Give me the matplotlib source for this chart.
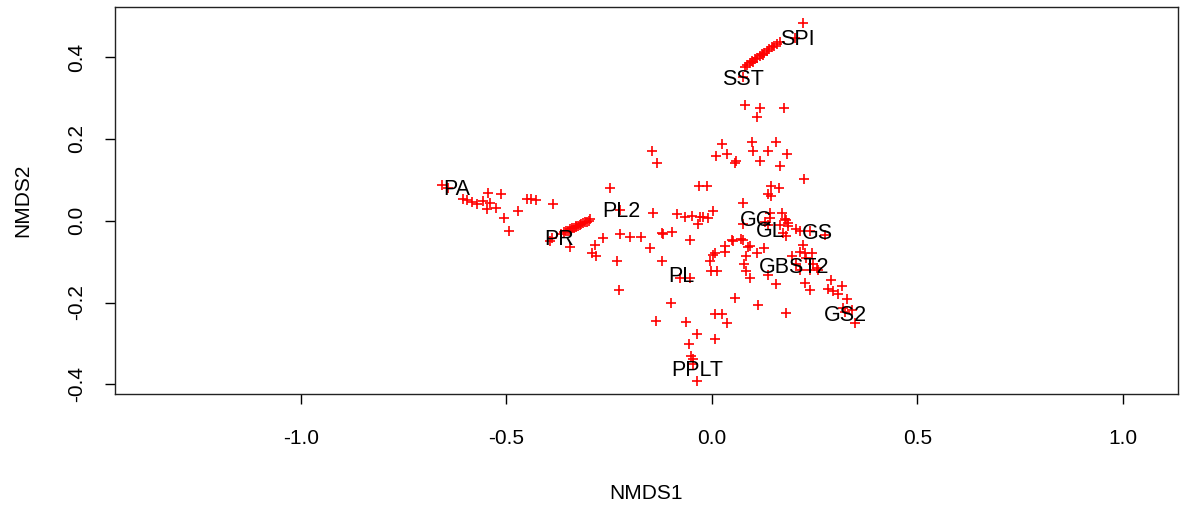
import matplotlib.pyplot as plt

plt.rcParams["font.family"] = ["Liberation Sans", "DejaVu Sans"]

# NMDS site scores (axis 1, axis 2)
nmds1 = [
    # PA / left arm
    -0.658, -0.642, -0.606, -0.596, -0.584, -0.572, -0.557, -0.545, -0.540, -0.547,
    -0.526, -0.513, -0.506, -0.494, -0.472, -0.451, -0.440, -0.428, -0.387,
    # PR cluster
    -0.390, -0.345, -0.394, -0.368, -0.360, -0.355, -0.350, -0.345, -0.340, -0.336,
    -0.331, -0.327, -0.322, -0.318, -0.313, -0.309, -0.304, -0.300, -0.296, -0.345, -0.330,
    # centre-left
    -0.248, -0.224, -0.264, -0.285, -0.293, -0.281, -0.224, -0.200, -0.173, -0.232,
    -0.226, -0.146, -0.134, -0.143, -0.151, -0.122, -0.118, -0.096, -0.122, -0.136,
    -0.100, -0.086, -0.066, -0.049, -0.029, -0.009, 0.002, -0.033, -0.052, -0.031,
    -0.011, -0.021,
    # PL / PPLT
    -0.078, -0.054, -0.063, -0.036, -0.055, 0.007, -0.051, -0.047, -0.046, -0.037,
    0.007, 0.024, 0.037, 0.056, -0.005, -0.001, 0.013, 0.003, 0.032, 0.032,
    0.048, 0.056,
    # upper middle
    0.080, 0.117, 0.109, 0.175, 0.024, 0.098, 0.156, 0.011, 0.036, 0.058,
    0.099, 0.137, 0.182, 0.118, 0.167, 0.224, 0.144, 0.164, 0.137, 0.145,
    0.076, 0.170, 0.178, 0.141,
    # GC / GL / GS / GBST2 / GS2
    0.076, 0.129, 0.137, 0.180, 0.186, 0.167, 0.173, 0.180, 0.206, 0.214,
    0.238, 0.275, 0.186, 0.141, 0.222, 0.214, 0.226, 0.243, 0.230, 0.246,
    0.255, 0.238, 0.259, 0.194, 0.206, 0.214, 0.072, 0.007, 0.088, 0.110,
    0.127, 0.084, 0.078, 0.084, 0.092, 0.137, 0.156, 0.226, 0.238, 0.291,
    0.283, 0.295, 0.316, 0.307, 0.328, 0.319, 0.340, 0.348, 0.324, 0.113,
    0.180, 0.052, 0.092, 0.076,
    # SST / SPI arm
    0.222, 0.076, 0.202, 0.080, 0.086, 0.092, 0.098, 0.104, 0.110, 0.116,
    0.122, 0.128, 0.134, 0.140, 0.146, 0.152, 0.158, 0.165, 0.100, 0.125,
]
nmds2 = [
    0.087, 0.080, 0.054, 0.051, 0.046, 0.041, 0.047, 0.068, 0.043, 0.028,
    0.032, 0.065, 0.007, -0.024, 0.024, 0.053, 0.053, 0.051, 0.041,
    -0.042, -0.064, -0.050, -0.033, -0.028, -0.026, -0.024, -0.021, -0.019, -0.017,
    -0.015, -0.013, -0.010, -0.008, -0.006, -0.004, -0.002, 0.000, 0.003, -0.026, -0.012,
    0.080, 0.027, -0.042, -0.059, -0.079, -0.087, -0.032, -0.041, -0.041, -0.099,
    -0.170, 0.171, 0.141, 0.019, -0.067, -0.029, -0.032, -0.027, -0.098, -0.246,
    -0.202, 0.017, 0.009, 0.012, 0.010, 0.007, 0.023, -0.007, -0.048, 0.084,
    0.085, 0.010,
    -0.140, -0.140, -0.247, -0.276, -0.302, -0.290, -0.331, -0.339, -0.351, -0.392,
    -0.228, -0.228, -0.251, -0.189, -0.099, -0.124, -0.124, -0.083, -0.063, -0.077,
    -0.048, 0.142,
    0.283, 0.275, 0.253, 0.275, 0.187, 0.192, 0.192, 0.157, 0.163, 0.147,
    0.171, 0.171, 0.163, 0.145, 0.134, 0.102, 0.086, 0.081, 0.066, 0.061,
    0.043, 0.019, 0.004, 0.020,
    -0.007, -0.002, -0.010, 0.002, -0.014, -0.010, -0.030, -0.038, -0.020, -0.026,
    -0.026, -0.034, -0.006, 0.007, -0.059, -0.077, -0.080, -0.079, -0.091, -0.107,
    -0.115, -0.120, -0.120, -0.087, -0.107, -0.120, -0.045, -0.079, -0.064, -0.079,
    -0.067, -0.087, -0.107, -0.124, -0.140, -0.132, -0.154, -0.152, -0.170, -0.144,
    -0.168, -0.172, -0.159, -0.180, -0.191, -0.213, -0.217, -0.250, -0.224, -0.207,
    -0.225, -0.050, -0.063, -0.046,
    0.482, 0.352, 0.446, 0.376, 0.381, 0.385, 0.390, 0.394, 0.398, 0.403,
    0.407, 0.411, 0.415, 0.420, 0.424, 0.428, 0.432, 0.437, 0.388, 0.405,
]

# group labels and their positions
groups = ["PA", "PR", "PL2", "PL", "PPLT", "SST", "SPI", "GC", "GL", "GS", "GBST2", "GS2"]
group_x = [-0.620, -0.372, -0.221, -0.075, -0.036, 0.075, 0.207, 0.107, 0.141, 0.258, 0.200, 0.326]
group_y = [0.076, -0.046, 0.022, -0.137, -0.366, 0.344, 0.444, 0.000, -0.027, -0.032, -0.115, -0.232]

fig = plt.figure(figsize=(11.8, 5.08), dpi=100)
ax = fig.add_axes([0.0975, 0.224, 0.9005, 0.762])

ax.plot(nmds1, nmds2, linestyle="none", marker="+", color="red",
        markersize=7, markeredgewidth=1.2)
for g, gx, gy in zip(groups, group_x, group_y):
    ax.text(gx, gy, g, fontsize=15.5, ha="center", va="center", color="black")

ax.set_xlim(-1.453, 1.134)
ax.set_ylim(-0.424, 0.522)
ax.set_xticks([-1.0, -0.5, 0.0, 0.5, 1.0])
ax.set_yticks([-0.4, -0.2, 0.0, 0.2, 0.4])
ax.set_xticklabels(["-1.0", "-0.5", "0.0", "0.5", "1.0"])
ax.set_yticklabels(["-0.4", "-0.2", "0.0", "0.2", "0.4"], rotation=90, va="center")
ax.tick_params(axis="x", labelsize=15, length=7, width=1, direction="out", pad=18)
ax.tick_params(axis="y", labelsize=15, length=7, width=1, direction="out", pad=14)
for s in ax.spines.values():
    s.set_linewidth(1.0)
    s.set_color("#222222")

ax.set_xlabel("NMDS1", fontsize=15, labelpad=26)
ax.set_ylabel("NMDS2", fontsize=15, labelpad=25)

plt.savefig("out.png", dpi=100)
plt.close()
